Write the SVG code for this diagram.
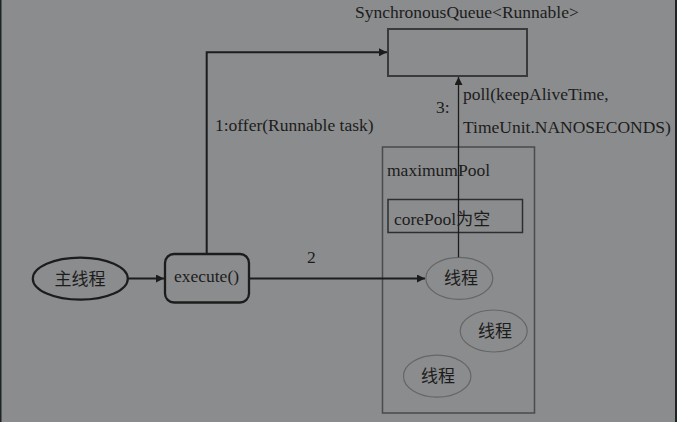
<svg xmlns="http://www.w3.org/2000/svg" width="677" height="422" viewBox="0 0 677 422">
<style>
.t{font-family:"Liberation Serif","Noto Sans CJK SC",serif;font-size:17.5px;fill:#1c1c1c}
.c{font-family:"Noto Sans CJK SC","Liberation Serif",serif;font-size:17px;fill:#1c1c1c}
.ln{fill:none;stroke:#1c1c1c;stroke-width:2}
.thin{fill:none;stroke:#1c1c1c;stroke-width:1.3}
.th{fill:none;stroke:#666;stroke-width:1.2}
</style>
<defs>
<marker id="ah" viewBox="0 0 10 10" refX="10" refY="5" markerWidth="8" markerHeight="8" markerUnits="userSpaceOnUse" orient="auto">
<path d="M0,0 L10,5 L0,10 z" fill="#1c1c1c"/>
</marker>
</defs>
<rect width="677" height="422" fill="#8b8c8e"/>
<rect x="0" y="0" width="1.5" height="422" fill="#1e2326"/>
<rect x="675" y="0" width="2" height="422" fill="#1e2326"/>

<g id="queue">
<text class="t" x="355" y="17.5">SynchronousQueue&lt;Runnable&gt;</text>
<rect x="388" y="29" width="139" height="47" fill="none" stroke="#3a3a3a" stroke-width="2"/>
</g>
<g id="maximumPool">
<rect x="382.5" y="147" width="152" height="266" fill="none" stroke="#4a4a4a" stroke-width="1.5"/>
<text class="t" x="387" y="176">maximumPool</text>
</g>
<g id="corePool">
<rect x="388" y="199.5" width="134.5" height="33" fill="none" stroke="#2e2e2e" stroke-width="1.5"/>
<text class="t" x="394" y="224.5">corePool<tspan class="c">为空</tspan></text>
</g>
<g id="main">
<ellipse cx="80.3" cy="278.7" rx="47.5" ry="21" fill="none" stroke="#1c1c1c" stroke-width="2.2"/>
<text class="c" x="80" y="284.5" text-anchor="middle">主线程</text>
</g>
<g id="execute">
<rect x="165" y="254" width="84" height="48.5" rx="9" fill="none" stroke="#1c1c1c" stroke-width="2.3"/>
<text class="t" x="206.5" y="282" text-anchor="middle">execute()</text>
</g>
<g id="thread1">
<ellipse cx="459.3" cy="278.3" rx="33.5" ry="21" class="th"/>
<text class="c" x="461" y="284" text-anchor="middle">线程</text>
</g>
<g id="thread2">
<ellipse cx="493.7" cy="331" rx="33.5" ry="21" class="th"/>
<text class="c" x="495" y="337" text-anchor="middle">线程</text>
</g>
<g id="thread3">
<ellipse cx="437.2" cy="376.2" rx="33.7" ry="21" class="th"/>
<text class="c" x="438" y="382" text-anchor="middle">线程</text>
</g>

<g id="connectors">
<path class="ln" d="M206.7,254 V52.3 H387" marker-end="url(#ah)"/>
<text class="t" x="215" y="131">1:offer(Runnable task)</text>
<path class="ln" d="M128,278.5 H164" marker-end="url(#ah)"/>
<path class="ln" d="M249,278.5 H425" marker-end="url(#ah)"/>
<text class="t" x="307" y="263">2</text>
<path class="thin" d="M458.5,257.3 V77" marker-end="url(#ah)"/>
<text class="t" x="436" y="113">3:</text>
<text class="t" x="463" y="100">poll(keepAliveTime,</text>
<text class="t" x="463" y="133">TimeUnit.NANOSECONDS)</text>
</g>
</svg>
